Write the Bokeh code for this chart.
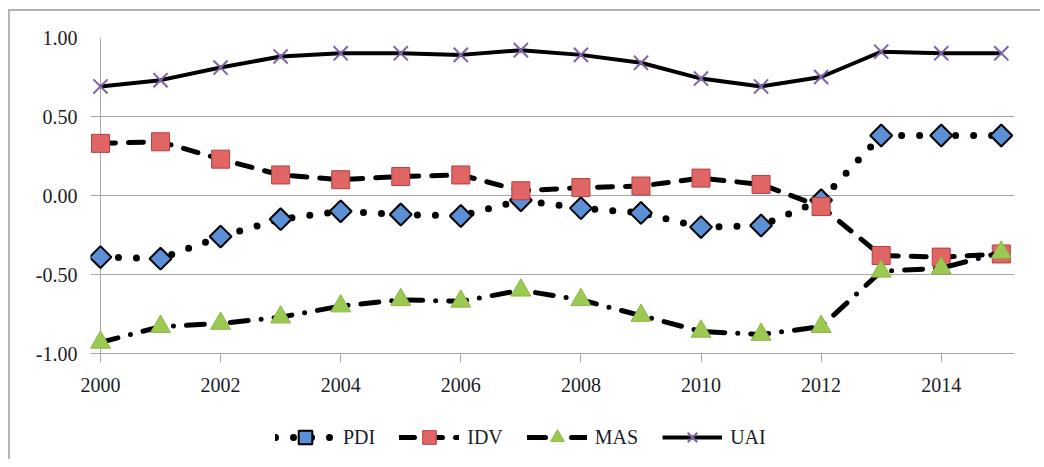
import numpy as np
from bokeh.plotting import figure
from bokeh.layouts import column
from bokeh.models import (FixedTicker, NumeralTickFormatter, Legend, LegendItem, Range1d,
                          ColumnDataSource, Span)
from bokeh.embed import file_html
from bokeh.resources import INLINE

years = list(range(2000, 2016))
pdi = [-0.39, -0.40, -0.26, -0.15, -0.10, -0.12, -0.13, -0.03, -0.08, -0.11, -0.20, -0.19, -0.03, 0.38, 0.38, 0.38]
idv = [0.33, 0.34, 0.23, 0.13, 0.10, 0.12, 0.13, 0.03, 0.05, 0.06, 0.11, 0.07, -0.07, -0.38, -0.39, -0.37]
mas = [-0.93, -0.83, -0.81, -0.77, -0.70, -0.66, -0.67, -0.60, -0.66, -0.76, -0.86, -0.88, -0.83, -0.48, -0.46, -0.36]
uai = [0.69, 0.73, 0.81, 0.88, 0.90, 0.90, 0.89, 0.92, 0.89, 0.84, 0.74, 0.69, 0.75, 0.91, 0.90, 0.90]
series_names = ["PDI", "IDV", "MAS", "UAI"]
y_ticks = [-1.0, -0.5, 0.0, 0.5, 1.0]
x_ticks = [2000, 2002, 2004, 2006, 2008, 2010, 2012, 2014]

FONT = "Liberation Serif"
TXT = "#1c1c28"
GRID = "#a6a6a6"

styles = [
    dict(line=dict(line_color="black", line_width=7, line_dash="0 18", line_cap="round", line_join="round"),
         marker=dict(marker="square", angle=np.pi / 4, size=15.5, fill_color="#5b8fd6", line_color="black", line_width=2)),
    dict(line=dict(line_color="black", line_width=5, line_dash="15 13", line_cap="round", line_join="round"),
         marker=dict(marker="square", size=18, fill_color="#e06565", line_color="#b5403e", line_width=1)),
    dict(line=dict(line_color="black", line_width=5, line_dash="18 13 0 13", line_cap="round", line_join="round"),
         marker=dict(marker="triangle", size=20, fill_color="#9cc952", line_color="#8cb646", line_width=1)),
    dict(line=dict(line_color="black", line_width=4, line_join="round"),
         marker=dict(marker="x", size=20, line_color="#7f62a8", line_width=2)),
]

p = figure(width=1030, height=399, output_backend="svg", toolbar_location=None,
           x_range=Range1d(1999.834, 2015.22), y_range=Range1d(-1.0, 1.0),
           min_border_left=80, min_border_right=26, min_border_top=26, min_border_bottom=57)
p.outline_line_color = None
p.background_fill_color = "white"

p.xgrid.grid_line_color = None
p.ygrid.grid_line_color = GRID
p.ygrid.grid_line_width = 1
p.ygrid.ticker = FixedTicker(ticks=y_ticks)

p.yaxis.ticker = FixedTicker(ticks=y_ticks)
p.yaxis.formatter = NumeralTickFormatter(format="0.00")
p.yaxis.major_tick_out = 0
p.yaxis.major_tick_in = 0
p.yaxis.minor_tick_line_color = None
p.yaxis.axis_line_color = None
p.yaxis.major_tick_line_color = None
p.yaxis.major_label_standoff = 13

p.xaxis.ticker = FixedTicker(ticks=x_ticks)
p.xaxis.major_tick_out = 9
p.xaxis.major_tick_in = 0
p.xaxis.minor_tick_line_color = None
p.xaxis.axis_line_color = GRID
p.xaxis.major_tick_line_color = GRID
p.xaxis.major_label_standoff = 15

for ax in (p.xaxis, p.yaxis):
    ax.major_label_text_font = FONT
    ax.major_label_text_font_size = "20px"
    ax.major_label_text_color = TXT

# vertical value axis line at the first category
p.add_layout(Span(location=years[0], dimension="height", line_color=GRID, line_width=1, level="underlay"))

for vals, st in zip([pdi, idv, mas, uai], styles):
    p.line(years, vals, **st["line"])
    p.scatter(years, vals, **st["marker"])

# legend strip below the chart (renderers hold no drawable point; they only feed the legend)
lf = figure(width=1030, height=49, output_backend="svg", toolbar_location=None,
            x_range=Range1d(0, 1), y_range=Range1d(0, 1),
            x_axis_type=None, y_axis_type=None,
            min_border_left=0, min_border_right=0, min_border_top=0, min_border_bottom=0)
lf.grid.visible = False
lf.outline_line_color = None
items = []
for name, st in zip(series_names, styles):
    src = ColumnDataSource(data=dict(x=[np.nan], y=[np.nan]))
    lr = lf.line("x", "y", source=src, **st["line"])
    mr = lf.scatter("x", "y", source=src, **st["marker"])
    items.append(LegendItem(label=name, renderers=[lr, mr]))

legend = Legend(items=items, orientation="horizontal", location=(185, 5))
legend.label_text_font = FONT
legend.label_text_font_size = "20px"
legend.label_text_color = TXT
legend.glyph_width = 60
legend.glyph_height = 34
legend.label_standoff = 8
legend.spacing = 24
legend.border_line_color = None
legend.background_fill_alpha = 0
legend.margin = 0
legend.padding = 0
lf.add_layout(legend, "center")

layout = column(p, lf, spacing=0, margin=(9, 0, 0, 8),
                styles={"border-top": "2px solid #b4b4b4", "border-left": "2px solid #b4b4b4"})
open("out.html", "w").write(file_html(layout, INLINE))
